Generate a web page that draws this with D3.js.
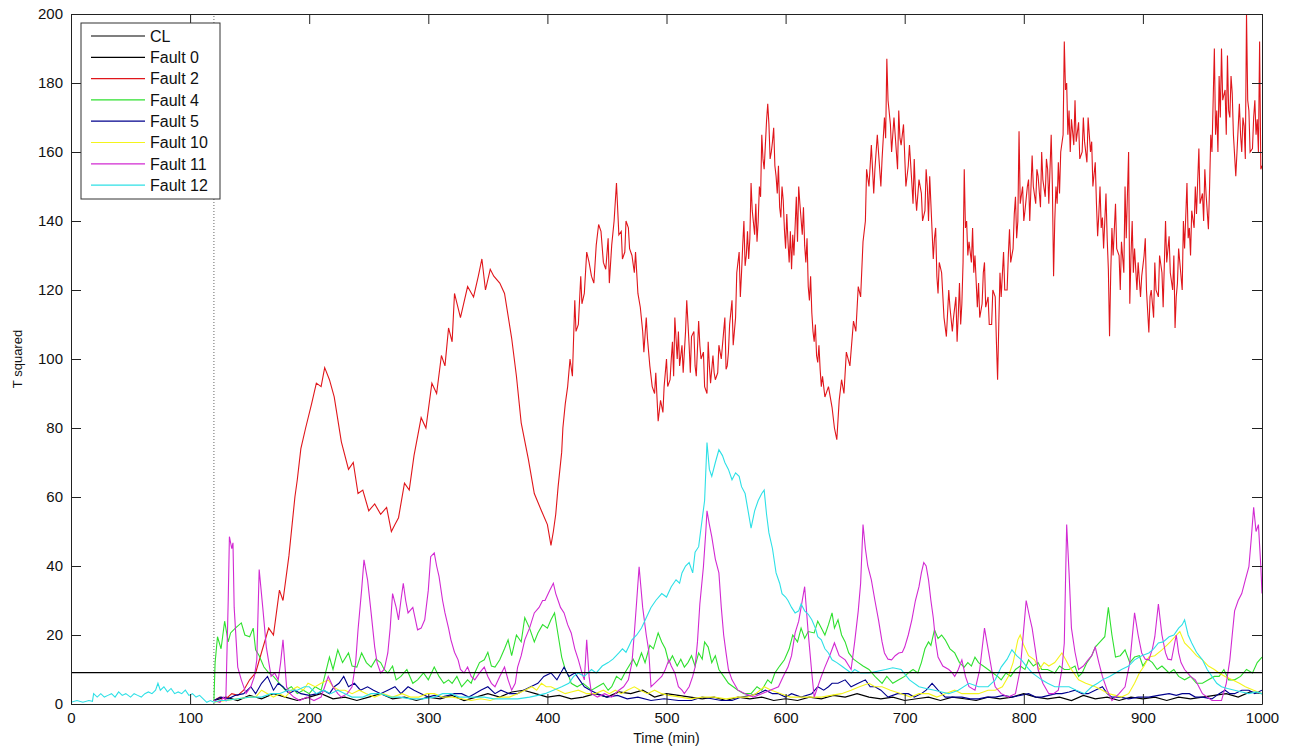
<!DOCTYPE html>
<html>
<head>
<meta charset="utf-8">
<script src="https://cdn.jsdelivr.net/npm/d3@7"></script>
<style>
  body { margin: 0; background: #fff; }
  svg { display: block; font-family: "Liberation Sans", Arial, sans-serif; }
</style>
</head>
<body>
<svg id="chart" width="1299" height="749"></svg>
<script>
// control limit for T squared
var CL = 9.1;
var faultStart = 120;

var xTicks = [0, 100, 200, 300, 400, 500, 600, 700, 800, 900, 1000];
var yTicks = [0, 20, 40, 60, 80, 100, 120, 140, 160, 180, 200];

var legendNames = ["CL", "Fault 0", "Fault 2", "Fault 4", "Fault 5", "Fault 10", "Fault 11", "Fault 12"];

// [time, T squared]
var fault0 = [[120,1],[130,2],[140,1],[150,2.5],[160,1.5],[170,3],[180,2],[190,1],[200,2],[210,3],[220,1.5],[230,2],[240,1],[250,2],[260,3],[270,1.5],[280,2],[290,1],[300,2],[310,1.5],[320,2.5],[330,1],[340,2],[350,3],[360,2],[370,3.5],[380,4],[390,3],[400,2],[410,2.5],[420,1.5],[430,2],[440,3],[450,2],[460,3.5],[470,3],[480,4],[490,2],[500,3],[510,2.5],[520,2],[530,1.5],[540,2],[550,1],[560,2],[570,1.5],[580,2],[590,1],[600,1.5],[610,1],[620,2],[630,1.5],[640,2.5],[650,2],[660,3],[670,2],[680,1.5],[690,2],[700,1],[710,1.5],[720,2],[730,1],[740,2],[750,1.5],[760,1],[770,2],[780,1.5],[790,2],[800,3],[810,2],[820,1.5],[830,2],[840,1],[850,2.5],[860,1.5],[870,2],[880,1],[890,2],[900,1.5],[910,2],[920,1],[930,2],[940,1.5],[950,2],[960,2.5],[970,3],[980,2],[990,3.5],[1000,3]];

var fault2 = [[120,1],[125,2],[130,1.5],[135,3],[140,2.5],[145,4],[150,7],[155,9],[160,15],[166,22],[170,20],[175,33],[178,30],[183,43],[188,60],[190,65],[193,74],[197,80],[202,87],[206,93],[210,92],[213,97.5],[217,94],[221,89],[227,76],[233,68],[237,70],[241,61],[245,62],[250,56],[255,58],[260,55],[265,57],[269,50],[272,52],[275,54],[280,64],[284,62],[288,72],[294,83],[298,80],[303,93],[307,90],[311,101],[314,98],[317,109],[320,105],[322,119],[327,112],[333,121],[338,118],[342,124],[345,129],[348,120],[352,126],[355,124],[360,122],[364,119],[370,106],[374,95],[378,81.5],[384,71],[389,61],[395,56],
  [400,52],[403,46],[405,50],[407,55],[409,63],[412,73],[413,80],[415,87],[417,92],[419,100],[421,95],[423,117],[424,108],[426,110],[428,124],[429,116],[431,119],[433,131],[435,128],[437,124],[439,122],[441,133],[443,139],[445,137],[447,128],[449,126],[451,135],[452,122],[454,133],[456,140],[458,151],[460,136],[462,137],[463,129],[465,131],[466,140],[468,138],[469,132],[471,130],[473,125],[474,131],[476,119],[478,115],[480,108],[481,102],[483,112],[484,106],[486,98],[488,92],[490,90],[491,96],[493,82],[495,88],[497,84.5],[498,92],
  [500,100],[501,92],[503,94],[504,100],[505,105],[506,95],[507,112],[509,100],[510,108],[511,98],[513,104],[514,96],[516,108],[517,117],[519,104],[520,96],[521,106.5],[523,108],[524,98],[525,95],[527,111],[528,104],[529,100],[531,102],[532,92],[534,90],[535,105],[536,98],[537,93],[539,101],[540,96],[541,94],[543,96],[544,104],[546,100],[548,108],[549,112],[550,97],[551,98],[552,102],[553,110],[555,117],[556,104],[558,112],[559,125],[561,131],[562,118],[563,125],[564,133],[565,140],[566,127],[567,130],[568,137],[569,129],[570,135],[571,151],[572,143],[574,136],[575,145],[576,134],[577,140],[578,150],[579,147],[580,165],[581,158],[582,155],[583,162],[584,169],[585,174],[586,168],[587,158],[588,160],[589,163],[590,167],[591,156],[592,153],[593,148],[594,156],[595,144],[596,141],[597,150],[598,146],[599,137.6],
  [600,132],[601,142],[602,134],[603,128],[604,137],[605,126],[606,136],[607,130],[608,138.5],[609,147],[610,134],[611,150],[612,145],[613,140.5],[614,136],[615,144],[616,133],[617,128],[618,135],[619,121],[620,117],[621,124],[622,113.5],[623,108],[624,105],[625,110],[626,101],[627,99],[628,104],[629,97],[630,92],[631,95],[633,89],[636,92],[639,86],[641,80],[643,76.6],[645,88],[647,94],[649,90],[651,102],[654,98],[657,111],[659,108],[661,121],[663,118],[665,134],[667,140],[668,155],[670,150],[672,162],[674,148],[675,155],[677,165],[678,160],[680,150],[681,158],[683,170],[684,164],[685,187],[686,175],[688,168],[689,160],[691,170],[692,165],[694,155],[695,172],[696,164],[697,162],[699,168],
  [700,159],[701,150],[703,156],[704,162],[706,151],[707,145],[708,158],[709,148],[710,143],[712,152],[714,148],[715,140],[717,143],[718,155],[719,150],[720,140],[721,153],[722,145],[724,129],[725,135],[726,138],[727,124],[728,119],[729,128],[731,125],[733,112],[735,106.5],[737,120],[738,115],[740,108],[741,112],[743,118],[744,105],[745,113],[746,122],[747,110],[748,116],[749,128],[750,155],[751,138],[752,140],[753,130],[754,134],[756,128],[757,138],[758,125],[759,130],[761,115],[762,122],[763,112],[765,116],[766,125],[767,128],[768,115],[770,118],[771,110],[773,110],[774,120],[776,118],[777,105],[778,94],[779,110],[780,125],[781,118],[783,131],[784,120],[786,120],[787,130],[788,137.6],[789,128],[791,132],[792,142],[793,147],[794,135],[795,140],[796,166],[797,145],[799,150],
  [800,140],[801,143],[803,150],[804,152],[805,140],[807,159],[808,150],[810,145],[811,155],[812,153],[814,144],[815,160],[816,152],[818,147],[819,158],[820,155],[821,145],[823,165],[824,150],[825,124],[826,140],[827,150],[828,145],[829,157],[830,148],[831,160],[833,165],[834,192],[835,178],[836,180],[837,165],[838,172],[839,160],[840,169.5],[842,162],[843,175],[844,163],[846,168.6],[847,158],[849,160],[850,170],[851,163],[853,157],[854,170],[856,160],[857,163],[858,150],[860,157],[861,145],[862,135.6],[863,142],[864,150],[865,138],[866,141],[867,132],[869,148],[870,135],[871,126],[872,106.6],[873,125],[874,138],[875,130],[877,145],[878,132],[880,130],[881,120],[882,134],[884,125],[885,150],[886,135],[888,160],[889,116],[890,130],[891,140],[892,125],[893,132],[895,120],[896,128],[898,118],[899,124],
  [901,130],[902,135],[903,120],[905,107.7],[906,118],[907,120],[909,112],[910,128],[911,120],[913,118],[914,130],[916,125],[917,115],[919,140],[920,128],[922,135.6],[923,125],[925,120],[926,130],[927,109],[928,118],[929,122],[930,132],[931,128],[933,120],[934,140],[935,132],[937,151],[938,135],[939,138],[940,130],[941,143],[943,138],[944,150],[945,142],[947,161],[948,145],[950,148],[951,140],[952,155],[953,148],[955,137.6],[956,150],[957,165],[958,160],[960,190],[961,165],[962,172],[963,160],[964,182],[965,170],[966,190],[967,175],[969,178],[970,165],[971,188],[972,172],[973,170],[974,182],[975,177],[976,165],[978,153],[979,160],[981,174],[982,165],[983,160],[984,170],[985,167.5],[986,158],[987,200],[988,175],[989,172],[990,160],[992,161],[993,170],[994,175],[995,165],[996,169.5],[997,160],[998,192],[999,155],[1000,156]];

var fault4 = [[120,1],[121,12],[123,19.5],[126,16],[129,24],[132,18],[134,20.6],[138,22],[143,23.5],[146,20],[150,19.5],[153,22],[155,15.7],[158,14],[162,10.7],[166,9],[170,8],[175,6],[180,4],[185,5],[190,3],[195,4],[200,3],[205,5],[210,4],[213,8],[217,13.6],[220,10],[224,15.7],[228,12],[233,14.8],[236,11],[240,10.7],[244,14.8],[248,12],[252,10.7],[256,13],[260,12],[263,10],[266,9],[270,11],[273,7],[277,8],[282,10],[287,6],[291,7],[296,9],[300,7],[305,10.7],[309,8],[313,6],[317,7],[320,6],[324,8],[328,5],[333,7],[336,6],[339,9],[343,12],[347,12.8],[350,15],[353,11],[356,10.7],[360,12.8],[364,16],[367,18.6],[370,14],[374,20],[378,18],[381,25],[385,22],[389,18],[392,20.6],[396,23],[400,22],[403,24.4],[406,26.4],[409,20],[412,13.6],[415,10],[418,8],[420,6],[425,5],[430,6],[437,4],[442,5],[447,6],[451,4],[454,5],[458,8],[462,7],[465,9],[468,10.7],[472,13],[475,11],[479,14.8],[482,12],[486,17],[489,16],[493,20.6],[496,18],[499,16],[502,12],[505,14],[509,11],[512,13],[515,10.7],[518,12],[521,14],[524,11],[527,14.8],[530,13],[532,18],[535,16.5],[538,12],[541,14],[544,10],[548,8],[552,6],[556,5],[560,4],[565,3],[571,3],[576,5],[580,4],[585,7],[588,6],[591,9],[595,11],[599,12.8],[603,16],[606,20],[610,18],[613,22],[616,19],[619,21],[624,20.6],[627,24],[630,22],[633,20],[636,23],[639,26.4],[641,22],[644,24.4],[647,20],[650,18],[653,14.8],[657,13],[661,12],[665,11],[670,10],[675,8],[681,6],[685,8],[690,6],[695,7],[700,8],[703,9],[707,10],[711,9],[714,12],[717,16],[720,18],[722,17],[725,21.5],[728,19],[731,20],[734,18.6],[738,16],[742,14.8],[746,12],[750,10.7],[753,12],[756,11],[759,13.6],[762,12],[766,11],[770,10],[774,9],[778,8],[781,7],[785,9],[789,8],[793,10],[797,11],[801,10],[804,12.8],[808,11],[812,12],[815,10],[820,10],[826,9],[830,11],[834,10],[838,10],[843,11],[846,8],[849,9],[853,12],[857,14],[860,16.5],[864,18],[868,19.5],[871,28],[874,20],[877,13.6],[881,14],[885,15.7],[889,12],[893,13.6],[897,14],[900,11],[904,13],[908,12],[912,10],[916,11],[922,9],[926,10],[930,8],[935,7],[940,8],[945,6],[950,6],[955,7],[960,8],[964,8],[968,10],[972,7],[977,7],[982,8],[987,10],[992,9],[996,12],[1000,13.6]];

var fault5 = [[120,1],[126,2],[132,1.5],[138,2.5],[145,3],[151,5],[155,3],[160,6],[165,8],[170,4],[174,6],[178,5],[183,3],[188,4],[193,3],[200,2.5],[207,3],[212,4],[217,3],[221,5],[225,6],[229,8],[233,5],[238,6],[243,4],[249,5],[254,4],[260,3],[266,4],[272,5],[277,3],[283,5],[288,4],[294,3],[300,2],[305,2.5],[311,2],[317,2.5],[322,3],[328,3],[334,2],[339,3],[344,4],[350,5],[356,3],[361,4],[368,3],[375,3],[380,4],[386,5],[392,6],[397,8],[403,9],[408,7],[414,10.7],[418,8],[423,9],[427,7],[431,5],[436,4],[442,3],[450,2],[459,2.5],[467,1.5],[476,2],[487,1],[498,1.5],[510,1],[521,1],[530,2],[538,1.5],[546,1],[555,1],[563,2],[571,2.5],[577,3],[583,4],[589,3],[594,3],[600,2],[605,3],[613,2],[622,3],[627,5],[632,4],[636,5],[639,6],[644,6],[650,7],[655,5],[661,6],[667,7],[671,5],[675,5],[680,4],[686,2],[694,3],[703,3],[708,2],[714,3],[718,4],[723,6],[728,4],[734,2],[741,2],[748,2],[755,1.5],[762,1.5],[769,2],[776,2],[783,2.5],[790,2],[797,2.5],[804,3],[810,2],[815,2],[821,2.5],[827,3],[832,3],[838,3.5],[843,4],[849,3],[854,3],[860,4],[866,5],[870,3],[874,2],[881,2],[888,1.5],[896,2],[905,2],[913,2.5],[922,3],[928,2.5],[933,3],[939,3],[944,2],[950,2],[958,1.5],[964,3],[969,4],[973,3],[977,3],[983,4],[989,4],[994,3],[1000,4]];

var fault10 = [[120,0.5],[130,1],[140,1.5],[150,2],[155,2],[160,4],[165,3],[170,2],[175,3],[180,2],[185,4],[190,5],[195,4],[199,6],[205,5],[210,6],[216,7],[220,5],[225,4],[230,4],[236,3],[242,4],[248,3],[255,2],[262,3],[270,2],[278,3],[285,2],[292,2],[299,3],[305,3],[312,2],[320,2],[328,1.5],[336,1],[344,1.5],[352,1],[360,2],[368,2],[375,3],[381,4],[387,5],[391,4],[395,6],[399,5],[403,5],[409,4],[415,3],[420,3.5],[426,4],[433,3],[440,3],[447,4],[452,3],[457,4],[462,3],[467,4],[473,5],[478,4],[484,3],[490,4],[496,3],[502,2.5],[512,2],[520,1.5],[530,2],[540,2],[550,1.5],[560,2],[568,2],[575,3],[582,5],[588,4],[596,3],[604,2],[612,2],[620,2],[630,2],[638,2.5],[647,3],[655,4],[662,5],[670,6],[675,5],[681,5],[688,4],[697,3],[705,2],[712,3],[720,3],[727,2],[734,3],[742,4],[748,3],[755,3],[762,3],[770,4],[776,4],[782,5],[787,8],[791,12],[795,18.6],[797,20],[800,17],[804,14],[809,12.8],[813,10],[817,12],[821,11],[826,12],[832,14.8],[835,13],[838,11],[842,9],[846,7],[852,6],[860,5],[866,4],[871,3],[877,2.5],[882,2],[888,3],[893,6],[897,9],[901,11],[905,13.6],[910,14],[916,15.7],[920,17],[923,18],[927,19.5],[931,21],[935,17.7],[940,16],[945,14],[950,12.8],[955,11],[960,10],[964,9],[969,8],[975,7],[981,6],[986,5],[993,4],[1000,3]];

var fault11 = [[120,1],[125,0.5],[128,2],[130,1],[132,30],[133,48.5],[135,45],[136,46.7],[137,28],[140,10.7],[143,7],[147,3],[151,5],[154,8],[156,12.8],[158,39],[161,28],[164,16.5],[168,8],[171,9],[174,7],[176,12],[178,18.6],[181,5],[184,3],[187,2],[192,1],[198,2],[204,1],[210,2],[213,5],[216,8],[220,5],[224,3],[227,2],[232,3],[236,5],[239,12],[241,21.5],[244,33],[246,41.8],[249,36],[252,26.4],[255,16.5],[257,12],[260,9],[263,10],[266,14.8],[268,22],[270,32],[273,28],[275,24.4],[277,30],[279,35],[281,30],[283,26.4],[287,28],[291,21.5],[294,22],[297,24.4],[300,33],[302,42.7],[305,43.8],[307,40],[309,37],[312,30],[314,26.4],[317,22],[319,18.6],[322,15],[325,12.8],[327,10],[330,9],[333,10.7],[336,8],[339,7],[343,9],[347,10.7],[350,8],[353,6],[356,5],[360,8],[364,10.7],[367,7],[370,4],[373,6],[375,10.7],[378,14],[381,18.6],[385,22],[389,26.4],[393,28],[396,30],[398,30],[402,33],[405,35],[407,32],[409,30],[411,28],[414,26.4],[417,23],[420,20.6],[423,16],[426,12.8],[429,9],[431,7],[433,18.6],[435,8],[437,3],[442,2],[448,3],[454,2],[460,4],[464,5],[468,7],[471,12],[473,20.6],[475,30],[477,39.8],[480,28],[483,20],[485,15.7],[487,5],[490,6],[493,7],[496,8],[499,10],[502,12.8],[504,11],[507,9],[510,5],[513,4],[515,3],[519,5],[522,8],[524,10.7],[526,18],[528,29],[531,39.8],[533,50],[534,56],[536,52],[538,48.5],[541,42],[544,38],[546,28],[548,20],[550,14.8],[552,10],[555,7],[560,4],[566,3],[573,2],[580,3],[587,4],[594,5],[598,8],[602,10.7],[605,14],[608,20.6],[611,24],[613,28],[616,34],[619,20.6],[622,9],[624,2],[627,5],[630,8],[633,10.7],[637,14],[641,17.7],[645,14],[650,12.8],[655,10],[658,18],[661,27],[663,35],[665,52],[667,45],[669,40],[672,36],[675,30],[678,24.4],[681,18],[683,14.8],[686,13],[689,12.8],[692,14],[695,14.8],[698,15],[700,16.5],[703,20],[706,24.4],[709,30],[712,34],[714,38],[716,41],[718,40],[720,36],[722,30],[724,25],[726,18],[728,13.6],[732,11],[737,10],[740,9],[742,8],[745,10],[748,12.8],[751,8],[754,5],[759,4],[763,10],[765,16],[767,22],[770,16],[772,12],[774,8],[776,5],[781,3],[787,2],[793,3],[797,10],[800,22],[802,30],[805,25],[807,22],[810,15],[812,10],[816,6],[821,3],[825,3],[829,4],[832,10],[834,17.7],[835,35],[836,52],[838,38],[840,22],[843,15],[846,10],[850,11],[854,12.8],[857,14],[860,16.5],[863,12],[866,8],[870,4],[874,1],[880,3],[885,5],[889,12],[893,26.4],[896,20],[899,14.8],[902,13],[905,12.8],[908,16],[910,19.5],[913,29],[916,20],[919,14.8],[921,13],[924,12.8],[928,20],[930,14.8],[932,12],[935,10],[940,8],[944,7],[947,5],[950,3],[954,2],[958,1],[962,1],[966,1],[970,6],[973,12.8],[975,20],[977,27],[980,30],[983,32],[986,36],[989,39.8],[991,48],[993,57],[995,50],[997,52],[999,40],[1000,32]];

var fault12 = [[0,0.5],[5,1],[10,0.5],[15,1],[18,0.8],[19,3],[22,2],[25,3],[28,2],[31,2.5],[34,3],[37,2],[40,3.5],[43,2.5],[46,3],[50,2],[53,3],[56,2.5],[59,2],[62,3],[65,3.5],[68,3],[71,4],[73,6],[75,4],[78,5],[81,3.5],[84,4.5],[87,3],[90,3.5],[93,3],[96,4],[99,2.5],[102,3],[105,2],[108,2.5],[111,1.5],[114,0.5],[117,1],[120,0.5],[125,1],[130,1],[140,1.5],[150,2],[160,2],[168,3],[175,3],[182,4],[190,4],[196,5],[200,5],[206,3],[212,4],[218,3],[224,4],[230,3],[236,2],[245,2],[252,3],[260,3],[268,2],[276,2],[285,1.5],[295,1.5],[305,2],[312,3],[319,3],[326,2],[333,2],[340,2],[347,2],[355,1.5],[365,1.5],[375,1.5],[385,2],[392,2.5],[398,3],[405,4],[412,5],[418,6],[422,8],[426,9],[431,8],[437,10],[441,9],[446,11],[451,12],[455,13],[460,14.8],[463,16],[466,15],[471,18.6],[475,20],[479,22],[483,25],[487,28],[491,30],[496,32],[500,31],[504,34],[508,36],[511,35],[513,38],[516,40],[519,41],[522,38],[524,44],[527,45.6],[529,51],[532,59],[534,75.8],[536,68],[538,66],[541,70],[544,73.7],[547,72],[549,70],[552,68],[555,65],[558,67],[561,66],[563,63],[566,61],[568,57],[571,51],[574,56],[577,59],[580,61],[582,62],[584,55],[586,49.6],[589,45],[592,38],[595,35],[597,32],[600,31],[602,30],[605,28],[608,26.4],[611,27],[613,29],[616,27],[619,26],[622,24.4],[625,22],[627,19.5],[630,18.6],[633,16],[636,14.8],[639,12.8],[643,12],[647,11],[651,10],[655,9],[658,10],[663,9],[670,9],[677,9.5],[684,10],[690,10.5],[697,10],[704,7],[712,5],[718,4.5],[725,4],[731,3.5],[737,3],[745,4],[754,6],[762,5],[770,5],[776,7],[781,10.7],[786,13],[790,15.7],[794,14],[798,12.8],[802,11],[807,9],[811,8],[815,7],[820,6],[826,5],[832,5],[838,5],[844,4],[851,3],[857,5],[862,6],[866,7],[872,8],[877,9],[882,10],[888,11],[893,12.8],[899,14],[905,14.8],[909,16],[913,17.7],[917,18],[922,19.5],[926,20],[930,22],[933,23],[935,24.4],[938,20],[941,17.7],[945,15],[950,12.8],[954,10],[958,8],[962,6],[966,5],[971,4.5],[977,4],[983,3.5],[989,3],[995,3.5],[1000,3]];

var seriesList = [fault0, fault2, fault4, fault5, fault10, fault11, fault12];
var seriesColors = ["#000000", "#e0161b", "#2fe02f", "#00008c", "#f4f41c", "#d22ad2", "#2ee0e6"];
var legendColors = ["#000000"].concat(seriesColors);

var margin = {top: 14, right: 37, bottom: 45, left: 71},
  width = 1299 - margin.left - margin.right,
  height = 749 - margin.top - margin.bottom;

var svg = d3.select("#chart");
svg.append("rect").attr("width", 1299).attr("height", 749).attr("fill", "#fff");

var g = svg.append("g")
  .attr("transform", "translate(" + margin.left + "," + margin.top + ")");

var x = d3.scaleLinear().domain([0, 1000]).range([0, width]);
var y = d3.scaleLinear().domain([0, 200]).range([height, 0]);

g.append("clipPath").attr("id", "clip")
  .append("rect").attr("width", width).attr("height", height);

var plot = g.append("g").attr("clip-path", "url(#clip)");

// dotted marker where the faults start
plot.append("line")
  .attr("x1", x(faultStart)).attr("x2", x(faultStart))
  .attr("y1", y(0)).attr("y2", y(200))
  .attr("stroke", "#666")
  .attr("stroke-dasharray", "1,2");

var line = d3.line()
  .x(function(d) { return x(d[0]); })
  .y(function(d) { return y(d[1]); });

seriesList.forEach(function(s, i) {
  plot.append("path")
    .datum(s)
    .attr("fill", "none")
    .attr("stroke", seriesColors[i])
    .attr("stroke-width", 1.1)
    .attr("d", line);
});

// control limit
plot.append("line")
  .attr("x1", x(0)).attr("x2", x(1000))
  .attr("y1", y(CL)).attr("y2", y(CL))
  .attr("stroke", "#000")
  .attr("stroke-width", 1.2);

// axes, matlab style: ticks inside on all four sides
var fontSize = "15px";
var fmt = d3.format("d");
var bottomAxis = g.append("g")
  .attr("transform", "translate(0," + height + ")")
  .call(d3.axisBottom(x).tickValues(xTicks).tickFormat(fmt).tickSizeInner(-10).tickSizeOuter(0).tickPadding(8));
var leftAxis = g.append("g")
  .call(d3.axisLeft(y).tickValues(yTicks).tickFormat(fmt).tickSizeInner(-10).tickSizeOuter(0).tickPadding(8));
var topAxis = g.append("g")
  .call(d3.axisTop(x).tickValues(xTicks).tickSizeInner(-10).tickSizeOuter(0).tickFormat(""));
var rightAxis = g.append("g")
  .attr("transform", "translate(" + width + ",0)")
  .call(d3.axisRight(y).tickValues(yTicks).tickSizeInner(-10).tickSizeOuter(0).tickFormat(""));

[bottomAxis, leftAxis, topAxis, rightAxis].forEach(function(a) {
  a.selectAll("path").attr("stroke", "#222");
  a.selectAll("line").attr("stroke", "#222");
  a.selectAll("text")
    .attr("fill", "#111")
    .style("font-size", fontSize)
    .style("font-family", "'Liberation Sans', Arial, sans-serif");
});

// axis titles
svg.append("text")
  .attr("x", margin.left + width / 2)
  .attr("y", 743)
  .attr("text-anchor", "middle")
  .style("font-size", "14px")
  .attr("fill", "#111")
  .text("Time (min)");

svg.append("text")
  .attr("transform", "translate(22," + (margin.top + height / 2) + ") rotate(-90)")
  .attr("text-anchor", "middle")
  .style("font-size", "13px")
  .attr("fill", "#111")
  .text("T squared");

// legend
var legend = svg.append("g").attr("transform", "translate(81,23)");
legend.append("rect")
  .attr("width", 139).attr("height", 176)
  .attr("fill", "#fff")
  .attr("stroke", "#333");

legendNames.forEach(function(name, i) {
  var ly = 13 + i * 21.3;
  legend.append("line")
    .attr("x1", 10).attr("x2", 64)
    .attr("y1", ly).attr("y2", ly)
    .attr("stroke", legendColors[i])
    .attr("stroke-width", 1.2);
  legend.append("text")
    .attr("x", 69).attr("y", ly)
    .attr("dy", "0.36em")
    .style("font-size", "16px")
    .attr("fill", "#111")
    .text(name);
});
</script>
</body>
</html>
